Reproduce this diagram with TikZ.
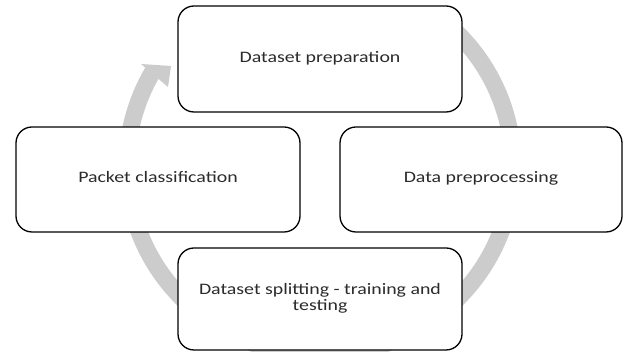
\documentclass[tikz,border=0pt]{standalone}
\usepackage{fontspec}
\setmainfont{Carlito}
\definecolor{ringgray}{HTML}{CCCCCC}
\definecolor{txtgray}{HTML}{2B2B2B}
\newcommand{\wtxt}[1]{\scalebox{1.24}[1]{\begin{tabular}{@{}c@{}}#1\end{tabular}}}
\tikzset{
  stagebox/.style={draw=black, line width=1.3pt, fill=white, rounded corners=16pt,
    inner sep=0pt, text=txtgray, font=\fontsize{16}{15}\selectfont},
  ringshaft/.style={draw=ringgray, line width=17pt},
  ringhead/.style={fill=ringgray}
}
\begin{document}
\begin{tikzpicture}[x=1pt,y=1pt]
\useasboundingbox (0,0) rectangle (624,352);
\clip (0,0) rectangle (624,352);
\fill[white] (0,0) rectangle (624,352);
% ring
\coordinate (rc) at (320,186);
\draw[ringshaft] (rc) ++(50:193 and 189) arc[start angle=50, end angle=-210, x radius=193, y radius=189];
\coordinate (tip) at (171,286);
\coordinate (barbA) at (141,288);
\coordinate (barbB) at (168,265);
\fill[ringhead] (tip) -- (barbA) -- (barbB) -- cycle;
% boxes
\node[stagebox, minimum width=284pt, minimum height=106pt] (prep) at (320,293) {\wtxt{Dataset preparation}};
\node[stagebox, minimum width=282pt, minimum height=105pt] (pre) at (481,172.5) {\wtxt{Data preprocessing}};
\node[stagebox, minimum width=284pt, minimum height=105pt] (cls) at (158,172.5) {\wtxt{Packet classification}};
\node[stagebox, minimum width=284pt, minimum height=102pt] (split) at (320,53) {\wtxt{Dataset splitting - training and\\testing}};
\end{tikzpicture}
\end{document}
